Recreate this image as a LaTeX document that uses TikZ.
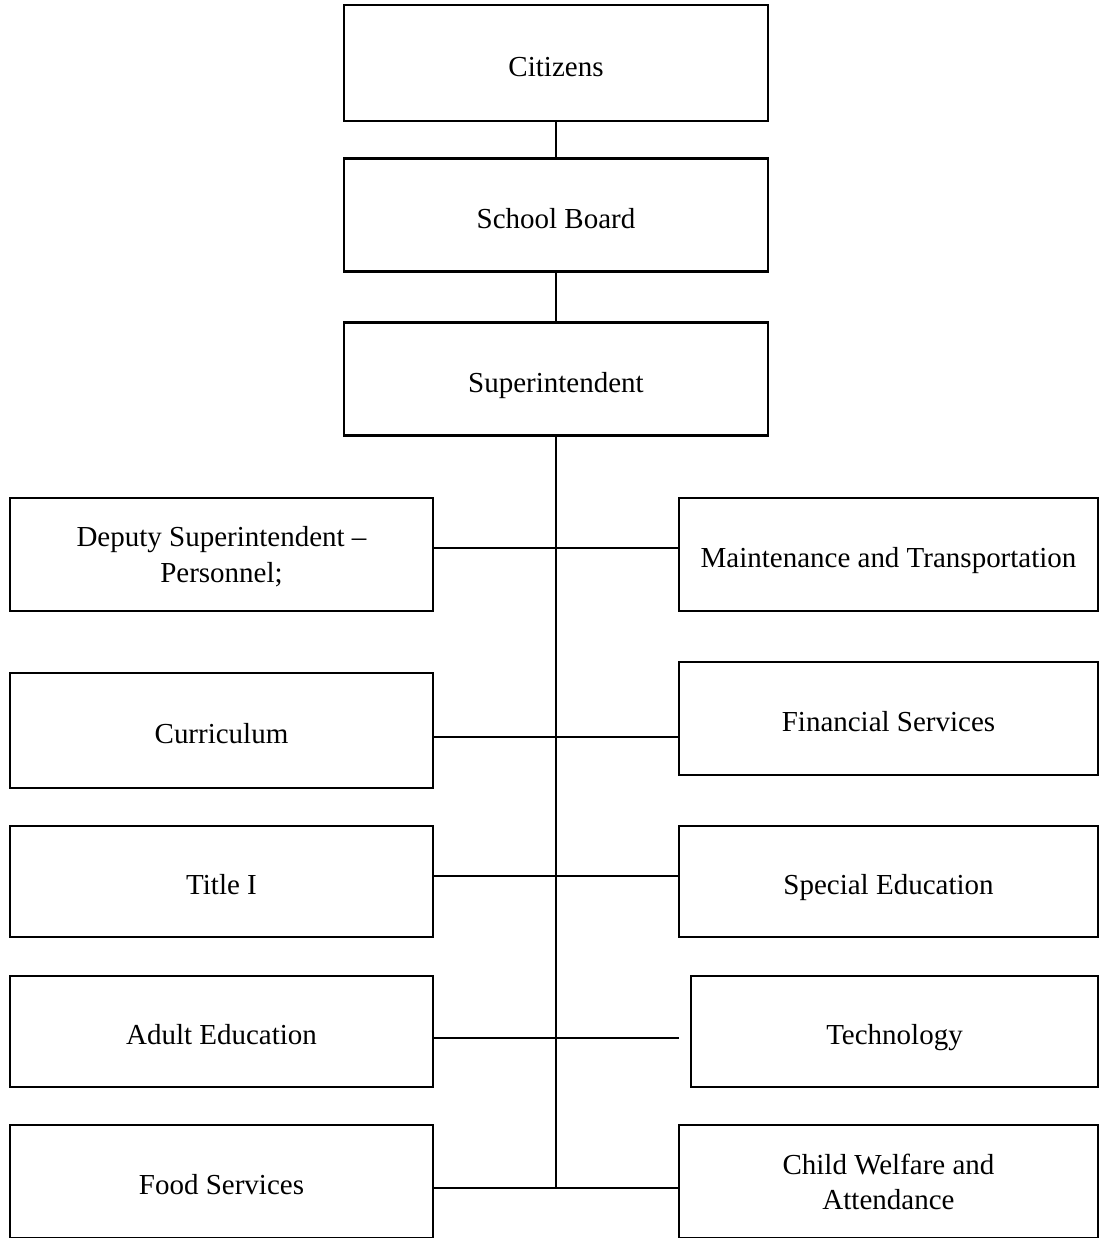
\documentclass[tikz,border=0pt]{standalone}
\usepackage{fontspec}
\setmainfont{Liberation Serif}
\usepackage{tikz}
\usetikzlibrary{positioning}

\begin{document}
\begin{tikzpicture}[
    unit/.style={rectangle, draw, line width=1.5pt, minimum width=8.46cm, minimum height=2.26cm,
        align=center, inner sep=2pt, text height=14.8pt, text depth=0pt,
        font=\fontsize{16.5}{20}\selectfont},
    twoline/.style={text height=, text depth=},
    top/.style={unit, minimum width=8.48cm},
    link/.style={line width=1.1pt}
]
    \useasboundingbox (0,0) rectangle (22,-24.76);

    % 上层
    \node[top, minimum height=2.32cm] (citizens) at (11.12, -1.26) {Citizens};
    \node[top] (board) at (11.12, -4.30) {School Board};
    \node[top] (super) at (11.12, -7.58) {Superintendent};
    \draw[link] (citizens) -- (board);
    \draw[link] (board) -- (super);

    % 左列
    \node[unit, twoline, text depth=-1pt] (deputy) at (4.43, -11.09) {Deputy Superintendent --\\Personnel;};
    \node[unit, minimum height=2.30cm] (curric) at (4.43, -14.61) {Curriculum};
    \node[unit, minimum height=2.22cm] (title) at (4.43, -17.63) {Title I};
    \node[unit, minimum height=2.22cm] (adult) at (4.43, -20.63) {Adult Education};
    \node[unit] (food) at (4.43, -23.63) {Food Services};

    % 右列
    \node[unit, minimum width=8.38cm] (maint) at (17.77, -11.09) {Maintenance and Transportation};
    \node[unit, minimum width=8.38cm] (finance) at (17.77, -14.37) {Financial Services};
    \node[unit, minimum width=8.38cm, minimum height=2.22cm] (special) at (17.77, -17.63) {Special Education};
    \node[unit, minimum width=8.14cm, minimum height=2.22cm] (tech) at (17.89, -20.63) {Technology};
    \node[unit, twoline, minimum width=8.38cm] (child) at (17.77, -23.63) {Child Welfare and\\Attendance};

    % 主干
    \coordinate (j1) at (11.12, -10.96);
    \coordinate (j2) at (11.12, -14.74);
    \coordinate (j3) at (11.12, -17.52);
    \coordinate (j4) at (11.12, -20.76);
    \coordinate (j5) at (11.12, -23.76);
    \coordinate (techend) at (13.58, -20.76);
    \draw[link] (super) -- (j5);

    \draw[link] (deputy.east |- j1) -- (maint.west |- j1);
    \draw[link] (curric.east |- j2) -- (finance.west |- j2);
    \draw[link] (title.east |- j3) -- (special.west |- j3);
    \draw[link] (adult.east |- j4) -- (techend);
    \draw[link] (food.east |- j5) -- (child.west |- j5);
\end{tikzpicture}
\end{document}
